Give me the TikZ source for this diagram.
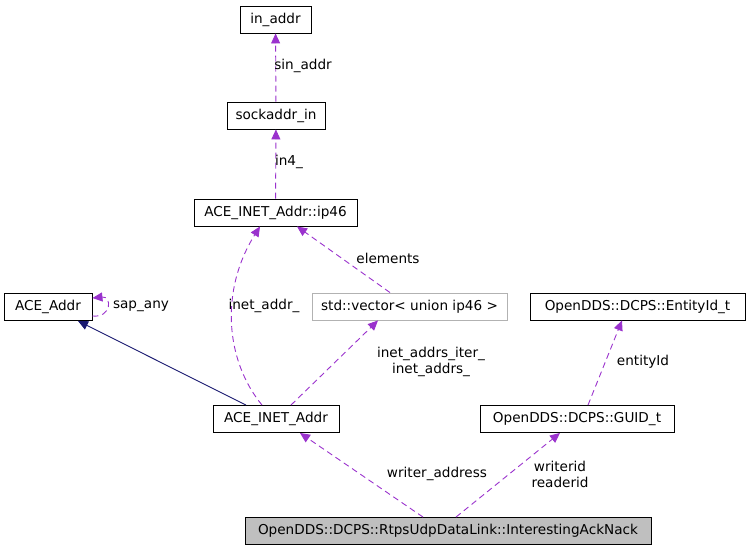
\documentclass[tikz,border=0pt]{standalone}
\usepackage{fontspec}
\setmainfont{DejaVu Sans}
\usetikzlibrary{arrows.meta}
\definecolor{pur}{HTML}{9A32CD}
\definecolor{nav}{HTML}{191970}
\begin{document}
\begin{tikzpicture}[x=1pt,y=-1pt,line width=0.9pt,
  box/.style={draw=black,fill=white,minimum height=27pt,inner sep=0pt,font=\fontsize{13.6}{16}\selectfont},
  lab/.style={font=\fontsize{13.6}{16}\selectfont,align=center,inner sep=1pt},
  use/.style={draw=pur,dash pattern=on 6pt off 4pt,-{Triangle[length=10pt,width=9pt,fill=pur]}},
  inh/.style={draw=nav,-{Triangle[length=10pt,width=9pt,fill=nav]}}]
\useasboundingbox (0,0) rectangle (749,552);
\node[box,minimum width=71pt] (inaddr) at (275.5,19.5) {in\_addr};
\node[box,minimum width=98pt] (sock) at (276,115.5) {sockaddr\_in};
\node[box,minimum width=163pt] (ip46) at (275.5,212.5) {ACE\_INET\_Addr::ip46};
\node[box,minimum width=88pt] (aceaddr) at (48,307) {ACE\_Addr};
\node[box,draw=black!30,minimum width=195pt] (vec) at (409.5,306.5) {std::vector< union ip46 >};
\node[box,minimum width=215pt] (ent) at (637.5,306.5) {OpenDDS::DCPS::EntityId\_t};
\node[box,minimum width=126pt] (inet) at (276,419) {ACE\_INET\_Addr};
\node[box,minimum width=194pt] (guid) at (577,419) {OpenDDS::DCPS::GUID\_t};
\node[box,fill=black!25,minimum width=406pt] (main) at (448,531) {OpenDDS::DCPS::RtpsUdpDataLink::InterestingAckNack};

\draw[use] (sock) -- (inaddr);
\node[lab] (l1) at (303,66) {sin\_addr};
\draw[use] (ip46) -- (sock);
\node[lab] (l2) at (289,162) {in4\_};
\draw[use] (vec.north -| 390,0) -- (ip46.south -| 297,0);
\node[lab] (l3) at (388,258) {elements};
\draw[use] (inet.north -| 262,0) .. controls (225,360) and (220,290) .. (ip46.south -| 260,0);
\node[lab] (l4) at (264,306) {inet\_addr\_};
\draw[use] (inet.north -| 291,0) -- (vec.south -| 378,0);
\node[lab] (l5) at (431,362) {inet\_addrs\_iter\_\\inet\_addrs\_};
\draw[inh] (inet.north -| 246,0) -- (aceaddr.south -| 78,0);
\draw[use] (aceaddr.east |- 0,316) .. controls (112,318) and (112,296) .. (aceaddr.east |- 0,298);
\node[lab] (l6) at (141,306) {sap\_any};
\draw[use] (main.north -| 423,0) -- (inet.south -| 300,0);
\node[lab] (l7) at (437,474) {writer\_address};
\draw[use] (main.north -| 456,0) -- (guid.south -| 560,0);
\node[lab] (l8) at (560,474) {writerid\\readerid};
\draw[use] (guid.north -| 588,0) -- (ent.south -| 622,0);
\node[lab] (l9) at (643,362) {entityId};
\end{tikzpicture}
\end{document}
